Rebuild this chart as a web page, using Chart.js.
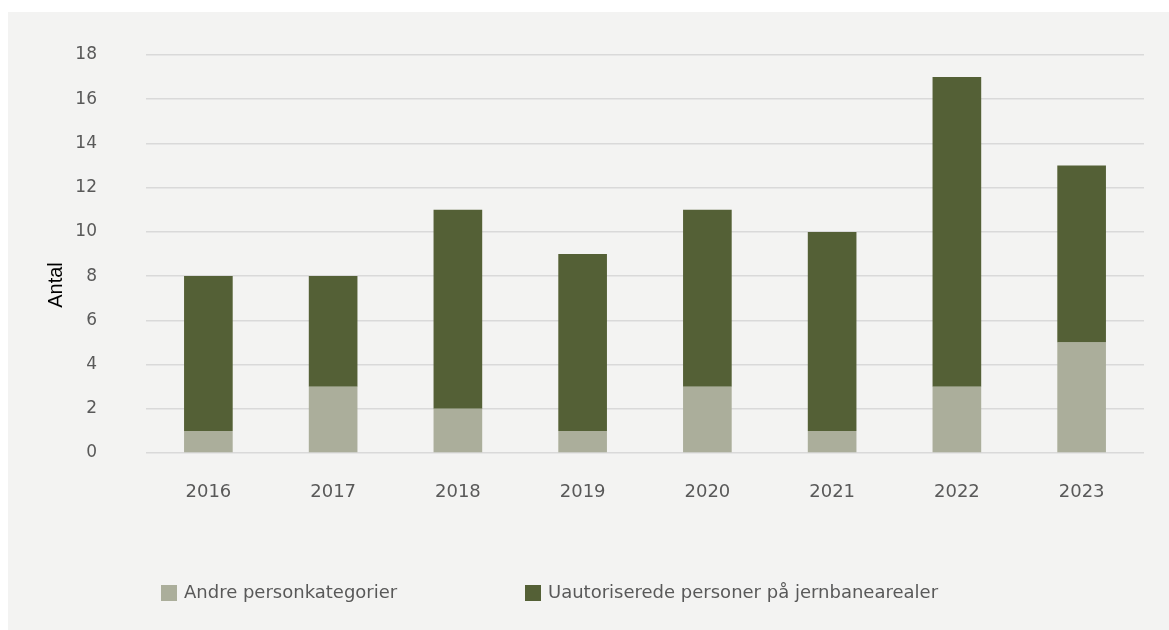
<!DOCTYPE html>
<html lang="da">
<head>
  <meta charset="UTF-8">
  <title>Antal</title>
  <script src="https://cdn.jsdelivr.net/npm/chart.js"></script>
  <style>
    html, body { margin: 0; padding: 0; background: #ffffff; }
    .panel {
      position: absolute;
      left: 8px;
      top: 12px;
      width: 1161px;
      height: 618px;
      background: #f3f3f2;
    }
  </style>
</head>
<body>
  <div class="panel">
    <canvas id="chart" width="1161" height="618"></canvas>
  </div>
  <script>
    const years = ['2016', '2017', '2018', '2019', '2020', '2021', '2022', '2023'];
    const andre = [1, 3, 2, 1, 3, 1, 3, 5];
    const uautoriserede = [7, 5, 9, 8, 8, 9, 14, 8];
    const seriesNames = ['Andre personkategorier', 'Uautoriserede personer på jernbanearealer'];
    const seriesColors = ['#abae9b', '#546036'];
    const yTitle = 'Antal';

    const font = 'DejaVu Sans, Verdana, sans-serif';

    // legend and y title drawn by hand so they sit where they do in the original
    const extras = {
      id: 'extras',
      afterDraw(chart) {
        const ctx = chart.ctx;
        const xs = [153, 517];
        ctx.save();
        ctx.font = '18px ' + font;
        ctx.textBaseline = 'middle';
        chart.data.datasets.forEach((ds, i) => {
          ctx.fillStyle = ds.backgroundColor;
          ctx.fillRect(xs[i], 573, 16, 16);
          ctx.fillStyle = '#595959';
          ctx.fillText(ds.label, xs[i] + 23, 581);
        });

        ctx.translate(48, 273);
        ctx.rotate(-Math.PI / 2);
        ctx.font = '20px Liberation Sans, Arial, sans-serif';
        ctx.textAlign = 'center';
        ctx.fillStyle = '#000000';
        ctx.fillText(yTitle, 0, 0);
        ctx.restore();
      }
    };

    new Chart(document.getElementById('chart'), {
      type: 'bar',
      data: {
        labels: years,
        datasets: [
          { label: seriesNames[0], data: andre, backgroundColor: seriesColors[0] },
          { label: seriesNames[1], data: uautoriserede, backgroundColor: seriesColors[1] }
        ]
      },
      options: {
        responsive: false,
        animation: false,
        layout: { padding: { left: 33, top: 43, right: 25, bottom: 0 } },
        datasets: { bar: { categoryPercentage: 1, barPercentage: 0.39 } },
        scales: {
          x: {
            stacked: true,
            grid: { display: false, drawTicks: false },
            border: { display: false },
            ticks: { color: '#595959', font: { family: font, size: 18 }, padding: 29 },
            afterFit(scale) { scale.height = 177; }
          },
          y: {
            stacked: true,
            min: 0,
            max: 18,
            ticks: { stepSize: 2, color: '#595959', font: { family: font, size: 17 }, padding: 49 },
            grid: { color: '#d9d9d9', lineWidth: 1.5, drawTicks: false },
            border: { display: false },
            afterFit(scale) {
              scale.width = 105;
              scale.paddingTop = 0;
              scale.paddingBottom = 0;
            }
          }
        },
        plugins: {
          legend: { display: false },
          tooltip: { enabled: false }
        }
      },
      plugins: [extras]
    });
  </script>
</body>
</html>
